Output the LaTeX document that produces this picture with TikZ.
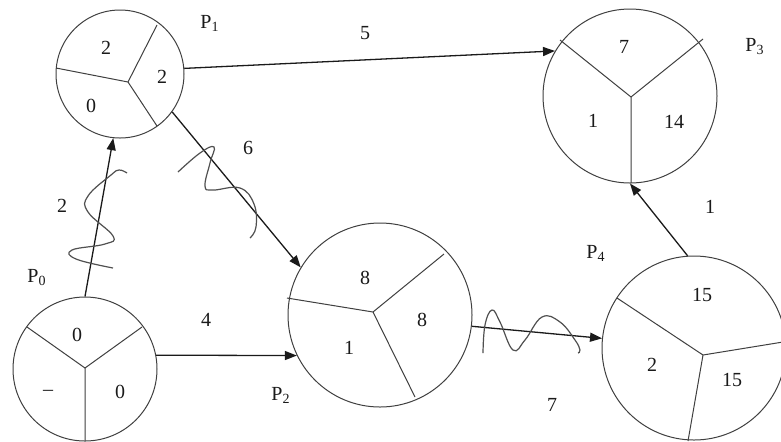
\documentclass[tikz,border=0pt]{standalone}
\usepackage{fontspec}
\setmainfont{Liberation Serif}
\usetikzlibrary{arrows.meta,calc}
\definecolor{pcInk}{HTML}{1A1A1A}
\definecolor{pcRim}{HTML}{404040}
\definecolor{pcPen}{HTML}{505050}
\tikzset{
  pc proc/.style={circle, draw=pcRim, line width=.5pt, inner sep=0pt},
  pc spoke/.style={draw=pcRim, line width=.5pt},
  pc edge/.style={
    draw=pcInk,
    line width=.65pt,
    -{Triangle[length=6pt,width=4.5pt]}
  },
  pc squiggle/.style={draw=pcPen, line width=.6pt, smooth, tension=.7},
  pc value/.style={font=\normalsize, text=pcInk, inner sep=1pt},
  pc name/.style={font=\normalsize, text=pcInk, inner sep=1pt},
  pc weight/.style={font=\normalsize, text=pcInk, inner sep=1pt}
}

\begin{document}
\begin{tikzpicture}[x=.5pt,y=-.5pt]
  \useasboundingbox[fill=white] (0,0) rectangle (781,441);

  % processes
  \node[pc proc, minimum size=72pt] (p0) at (85,369) {};
  \node[pc proc, minimum size=64pt] (p1) at (120,74) {};
  \node[pc proc, minimum size=92pt] (p2) at (380,315) {};
  \node[pc proc, minimum size=87pt] (p3) at (630,96) {};
  \node[pc proc, minimum size=92pt] (p4) at (694,348) {};

  \coordinate (h0) at (85,368);
  \coordinate (h1) at (128,82);
  \coordinate (h2) at (373,312);
  \coordinate (h3) at (631,97);
  \coordinate (h4) at (703,355);

  \draw[pc spoke] (h0) -- ++(-58,-41) (h0) -- ++(57,-41) (h0) -- ++(0,73);
  \draw[pc spoke] (h1) -- ++(29,-57) (h1) -- ++(-72,-14) (h1) -- ++(29,44);
  \draw[pc spoke] (h2) -- ++(-86,-14) (h2) -- ++(71,-58) (h2) -- ++(42,85);
  \draw[pc spoke] (h3) -- ++(-71,-57) (h3) -- ++(72,-58) (h3) -- ++(0,86);
  \draw[pc spoke] (h4) -- ++(-86,-57) (h4) -- ++(80,-13) (h4) -- ++(-15,86);

  % clock values
  \node[pc value] (v0a) at (77,335) {0};
  \node[pc value] (v0b) at (48,393) {--};
  \node[pc value] (v0c) at (120,392) {0};
  \node[pc value] (v1a) at (106,48) {2};
  \node[pc value] (v1b) at (162,77) {2};
  \node[pc value] (v1c) at (91,106) {0};
  \node[pc value] (v2a) at (365,278) {8};
  \node[pc value] (v2b) at (422,320) {8};
  \node[pc value] (v2c) at (349,348) {1};
  \node[pc value] (v3a) at (624,47) {7};
  \node[pc value] (v3b) at (593,121) {1};
  \node[pc value] (v3c) at (674,122) {14};
  \node[pc value] (v4a) at (702,295) {15};
  \node[pc value] (v4b) at (652,365) {2};
  \node[pc value] (v4c) at (732,380) {15};

  \node[pc name] (n0) at (37,278) {P\textsubscript{0}};
  \node[pc name] (n1) at (210,23) {P\textsubscript{1}};
  \node[pc name] (n2) at (281,395) {P\textsubscript{2}};
  \node[pc name] (n3) at (755,47) {P\textsubscript{3}};
  \node[pc name] (n4) at (596,253) {P\textsubscript{4}};

  % messages
  \draw[pc edge] (p0.90) -- (p1.-96);
  \draw[pc edge] (p0.11) -- (p2.206);
  \draw[pc edge] (p1.-36) -- (p2.149);
  \draw[pc edge] (p1.5) -- (p3.149);
  \draw[pc edge] (p2.-7) -- (p4.174);
  \draw[pc edge] (p4.94) -- (p3.-90);

  \node[pc weight] (w2) at (62,206) {2};
  \node[pc weight] (w4) at (206,320) {4};
  \node[pc weight] (w6) at (248,148) {6};
  \node[pc weight] (w5) at (365,33) {5};
  \node[pc weight] (w7) at (552,405) {7};
  \node[pc weight] (w1) at (710,207) {1};

  % lost-message squiggles
  \draw[pc squiggle] plot coordinates {(127,173) (119,170) (111,175) (88,196) (88,212) (113,236) (105,244) (72,250) (76,259) (113,268)};
  \draw[pc squiggle] plot coordinates {(178,172) (200,153) (214,147) (210,163) (205,186) (213,190) (240,188) (254,204) (256,227) (250,238)};
  \draw[pc squiggle] plot coordinates {(483,353) (485,325) (492,310) (500,322) (513,350) (525,340) (542,317) (560,322) (575,340) (580,350) (578,353)};
\end{tikzpicture}
\end{document}
